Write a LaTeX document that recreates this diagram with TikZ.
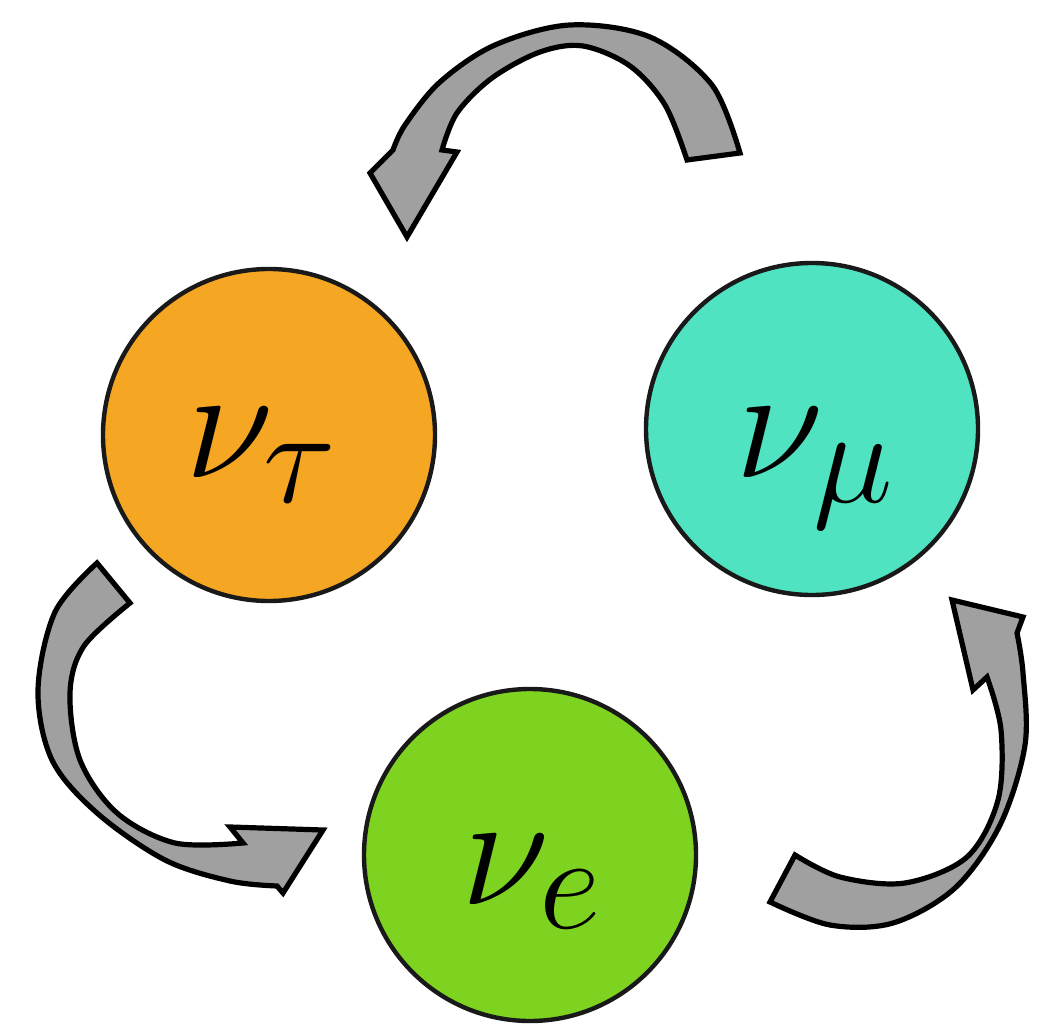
\documentclass[tikz,border=0pt]{standalone}
\definecolor{tauc}{HTML}{F5A623}
\definecolor{muc}{HTML}{50E3C2}
\definecolor{ec}{HTML}{7ED321}
\definecolor{arrc}{HTML}{A0A0A0}
\begin{document}
\begin{tikzpicture}[x=0.5pt,y=-0.5pt,
  flav/.style={circle,draw=black!90,line width=2.2pt,minimum size=166pt,inner sep=0pt},
  lab/.style={font=\Huge,scale=3.25,anchor=base,inner sep=0pt},
  bigarrow/.style={fill=arrc,draw=black,line width=2.6pt,line join=miter}]
\useasboundingbox (0,0) rectangle (1042,1036);
\node[flav,fill=tauc] (tau) at (269,435) {};
\node[flav,fill=muc] (mu) at (812,429) {};
\node[flav,fill=ec] (e) at (530,855) {};
\node[lab] (ltau) at (262,478) {$\nu_\tau$};
\node[lab] (lmu) at (816,478) {$\nu_\mu$};
\node[lab] (le) at (533,904) {$\nu_e$};
% top arrow (mu -> tau)
\filldraw[bigarrow] (740,153) -- plot[smooth,tension=0.55] coordinates {(740,153) (712,85) (650,37) (570,25) (495,45) (440,82) (405,125) (393,150)}
 -- (370,173) -- (407,237) -- (457,152) -- (442,150)
 -- plot[smooth,tension=0.55] coordinates {(442,150) (457,113) (492,78) (540,52) (583,46) (630,66) (665,105) (687,160)} -- cycle;
% left arrow (tau -> e)
\filldraw[bigarrow] (97,563) -- plot[smooth,tension=0.55] coordinates {(97,563) (55,612) (38,690) (52,760) (97,813) (165,860) (230,881) (277,886)}
 -- (283,893) -- (323,830) -- (230,827) -- (243,843)
 -- plot[smooth,tension=0.55] coordinates {(243,843) (175,843) (117,813) (80,760) (70,693) (84,646) (130,603)} -- cycle;
% right arrow (e -> mu)
\filldraw[bigarrow] (770,902) -- plot[smooth,tension=0.55] coordinates {(770,902) (830,925) (893,923) (955,888) (1000,825) (1025,745) (1023,673) (1017,633)}
 -- (1023,617) -- (952,600) -- (973,690) -- (987,677)
 -- plot[smooth,tension=0.55] coordinates {(987,677) (1001,730) (998,800) (967,857) (905,883) (840,877) (795,855)} -- cycle;
\end{tikzpicture}
\end{document}
